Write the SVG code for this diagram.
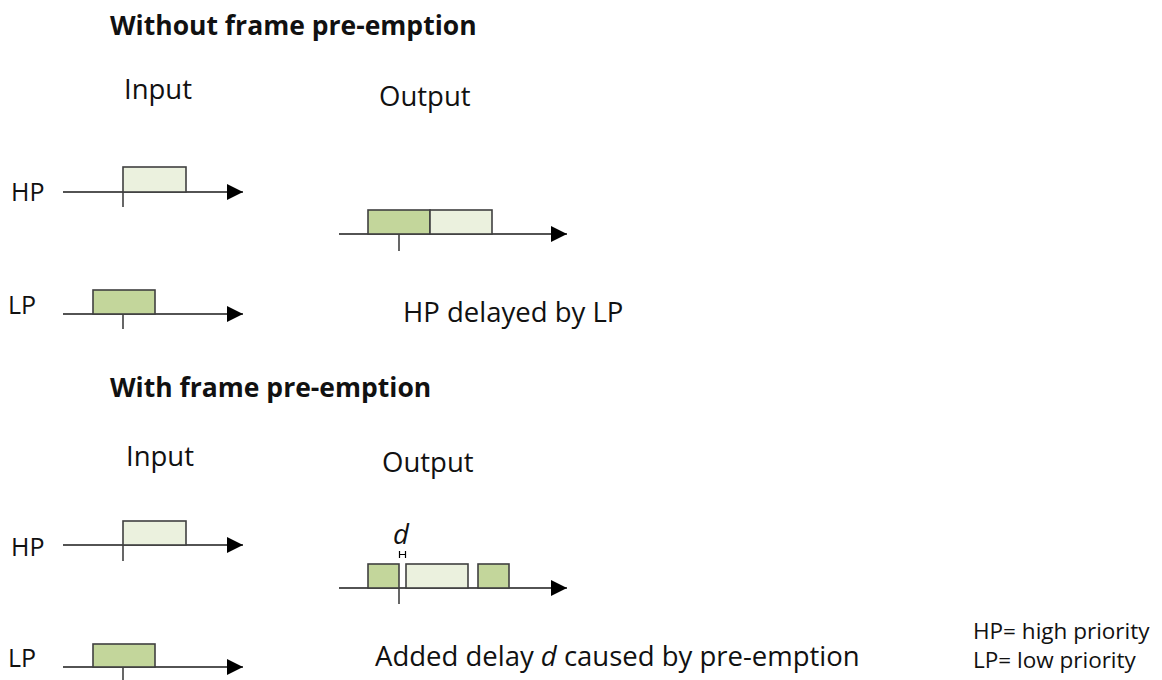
<svg xmlns="http://www.w3.org/2000/svg" width="1162" height="680" viewBox="0 0 1162 680">
<style>
text{font-family:"Open Sans","Liberation Sans",sans-serif;fill:#111}
.t{font-size:27.5px}
.l{font-size:25px}
.h{font-size:26.5px;font-weight:bold}
.s{font-size:22.5px}
.ax{stroke:#1a1a1a;stroke-width:1.6;fill:none}
.tk{stroke:#404040;stroke-width:1.6}
.lt{fill:#ebf1de;stroke:#404040;stroke-width:1.6}
.dk{fill:#c3d69b;stroke:#404040;stroke-width:1.6}
</style>
<defs>
<marker id="ar" viewBox="0 0 10 10" refX="10" refY="5" markerWidth="16" markerHeight="16" markerUnits="userSpaceOnUse" orient="auto">
<path d="M0,0L10,5L0,10z" fill="#000"/>
</marker>
</defs>
<rect width="1162" height="680" fill="#fff"/>
<g id="titles">
<text class="h" x="110" y="35">Without frame pre-emption</text>
<text class="t" x="124" y="99">Input</text>
<text class="t" x="379" y="106">Output</text>
<text class="t" x="403" y="322">HP delayed by LP</text>
<text class="h" x="110" y="397">With frame pre-emption</text>
<text class="t" x="126" y="466">Input</text>
<text class="t" x="382" y="472">Output</text>
<text class="t" x="375" y="666">Added delay <tspan font-style="italic">d</tspan> caused by pre-emption</text>
<text class="s" x="973" y="639">HP= high priority</text>
<text class="s" x="973" y="668">LP= low priority</text>
</g>
<g id="labels">
<text class="l" x="11" y="201">HP</text>
<text class="l" x="8" y="314">LP</text>
<text class="l" x="11" y="556">HP</text>
<text class="l" x="8" y="667">LP</text>
</g>
<g id="connectors">
<line class="ax" x1="63" y1="192" x2="243" y2="192" marker-end="url(#ar)"/>
<line class="ax" x1="63" y1="314" x2="243" y2="314" marker-end="url(#ar)"/>
<line class="ax" x1="339" y1="234" x2="567" y2="234" marker-end="url(#ar)"/>
<line class="ax" x1="63" y1="545" x2="243" y2="545" marker-end="url(#ar)"/>
<line class="ax" x1="63" y1="667" x2="243" y2="667" marker-end="url(#ar)"/>
<line class="ax" x1="339" y1="588" x2="567" y2="588" marker-end="url(#ar)"/>
</g>
<g id="in1-hp"><rect class="lt" x="123" y="167" width="63" height="25"/><line class="tk" x1="123" y1="192" x2="123" y2="207"/></g>
<g id="in1-lp"><rect class="dk" x="93" y="290" width="62" height="24"/><line class="tk" x1="123" y1="314" x2="123" y2="329"/></g>
<g id="out1"><rect class="dk" x="368" y="210" width="62" height="24"/><rect class="lt" x="430" y="210" width="62" height="24"/><line class="tk" x1="399" y1="234" x2="399" y2="251"/></g>
<g id="in2-hp"><rect class="lt" x="123" y="521" width="63" height="24"/><line class="tk" x1="123" y1="545" x2="123" y2="561"/></g>
<g id="in2-lp"><rect class="dk" x="93" y="644" width="62" height="23"/><line class="tk" x1="123" y1="667" x2="123" y2="680"/></g>
<g id="out2">
<rect class="dk" x="368" y="564" width="31" height="24"/>
<rect class="lt" x="406" y="564" width="62" height="24"/>
<rect class="dk" x="478" y="564" width="31" height="24"/>
<line class="tk" x1="399" y1="588" x2="399" y2="604"/>
<path d="M399.5,551v7M405.5,551v7M399.5,554.5h6" stroke="#000" stroke-width="1.2" fill="none"/>
<text class="t" x="393" y="544" font-style="italic">d</text>
</g>
</svg>
